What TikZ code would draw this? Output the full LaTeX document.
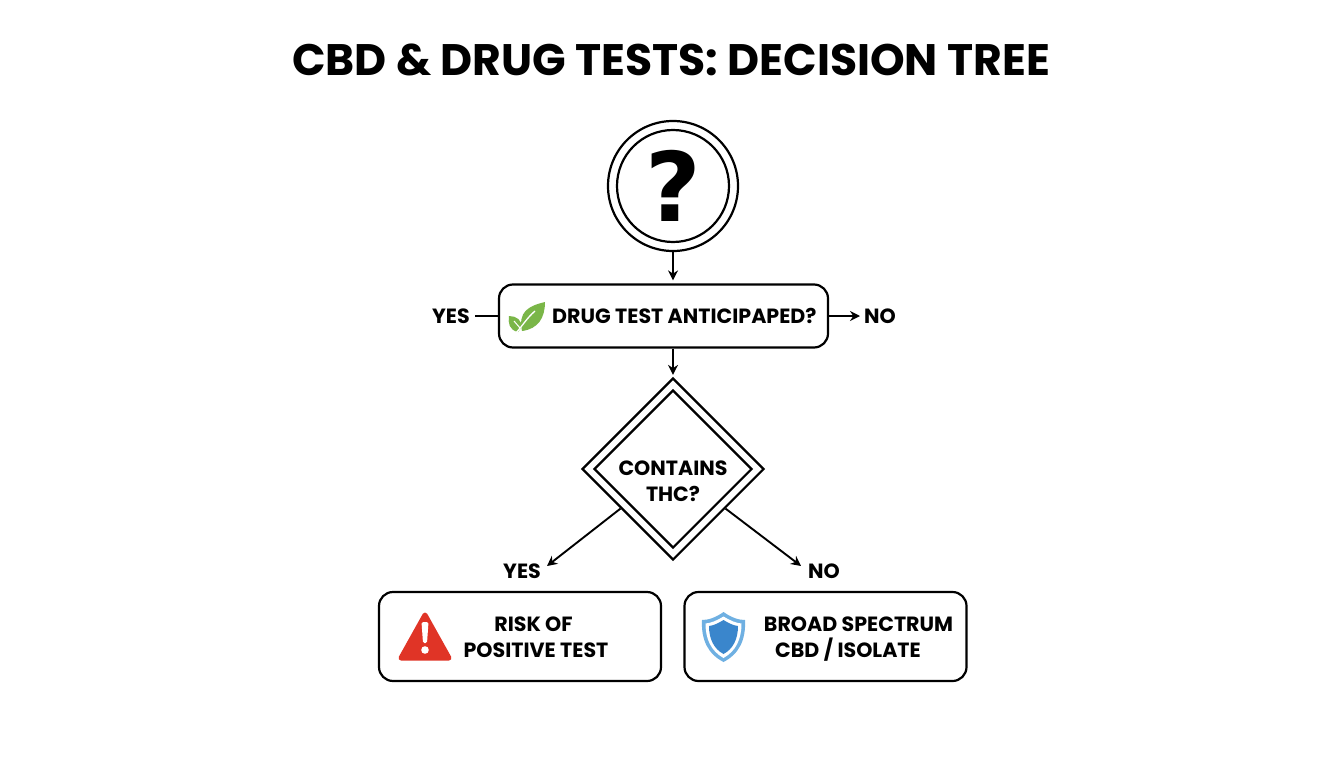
\documentclass[tikz,border=0pt]{standalone}
\usepackage{fontspec}
\setmainfont{Poppins}
\newfontfamily\markfont{DejaVu Sans}
\usetikzlibrary{arrows.meta,shapes.geometric}
\definecolor{leaf green}{HTML}{7AB648}
\definecolor{alert red}{HTML}{E03426}
\definecolor{shield blue}{HTML}{3A86CC}
\definecolor{shield light}{HTML}{6FB0E2}
\tikzset{flow edge/.style={draw=black,line width=1.9pt,-{Stealth[length=10pt,width=10pt]}}}
\tikzset{flow box/.style={draw=black,line width=2.2pt,rounded corners=14pt,fill=white,inner sep=0pt}}
\tikzset{flow text/.style={font=\bfseries\fontsize{20.6}{26}\selectfont,align=center,inner sep=0pt}}
\tikzset{ring/.style={draw=black,line width=2.2pt,circle,inner sep=0pt}}
\tikzset{rhomb/.style={draw=black,line width=2.2pt,diamond,inner sep=0pt,aspect=1}}

\begin{document}
\begin{tikzpicture}[x=1pt,y=-1pt]
\useasboundingbox (0,0) rectangle (1344,768);

\node[font=\bfseries\fontsize{44.1}{50}\selectfont,inner sep=0pt] (title) at (671,60) {CBD \& DRUG TESTS: DECISION TREE};

\node[ring,minimum size=130pt] (start) at (673,186) {};
\node[ring,minimum size=112pt,font=\markfont\bfseries\fontsize{96}{96}\selectfont] (mark) at (673,186) {?};

\node[flow box,minimum width=329pt,minimum height=63pt] (test) at (663.5,316) {};
\node[flow text,anchor=west] (testtext) at (552,316) {DRUG TEST ANTICIPAPED?};
\node[flow text,anchor=east] (testyes) at (470,316) {YES};
\node[flow text,anchor=west] (testno) at (864,316) {NO};

\node[rhomb,minimum width=182pt,minimum height=182pt] (thc) at (673,469) {};
\node[rhomb,minimum width=158pt,minimum height=158pt] (thcin) at (673,469) {};
\node[flow text] (thctext) at (673,481) {CONTAINS\\THC?};

\node[flow box,minimum width=282pt,minimum height=89pt] (risk) at (520,636.5) {};
\node[flow box,minimum width=282pt,minimum height=89pt] (safe) at (825.5,636.5) {};
\node[flow text] (risktext) at (536,637) {RISK OF\hspace*{5pt}\\POSITIVE TEST};
\node[flow text] (safetext) at (858.5,639) {BROAD SPECTRUM\\CBD / ISOLATE\hspace*{21pt}};
\node[flow text] (thcyes) at (522,571) {YES};
\node[flow text] (thcno) at (824,571) {NO};
\coordinate (yesend) at (547,566);
\coordinate (noend) at (801,566);

\draw[flow edge,shorten >=3pt] (start) -- (start |- test.north);
\draw[flow edge,shorten >=2pt] (start |- test.south) -- (thc.north);
\draw[line width=1.9pt] (testyes.east) ++(5,0) -- (test.west);
\draw[flow edge,shorten >=4pt] (test.east) -- (testno.west);
\draw[flow edge] (thc.217) -- (yesend);
\draw[flow edge] (thc.-37) -- (noend);

\fill[leaf green] (522,331) .. controls (518,312) and (528,306) .. (545,302) .. controls (545,318) and (538,329) .. (522,331) -- cycle;
\fill[leaf green] (518,332) .. controls (509,330) and (508,323) .. (509,316) .. controls (516,316) and (523,320) .. (521,328) -- cycle;
\draw[white,line width=1.3pt] (516,333) .. controls (523,325) and (527,318) .. (535,311);
\draw[white,line width=1pt] (520,328) -- (514,321);

\fill[alert red,draw=alert red,line width=5pt,line join=round] (425,615) -- (401,658) -- (449,658) -- cycle;
\fill[white,rounded corners=1.5pt] (421.5,622) -- (428.5,622) -- (427,643) -- (423,643) -- cycle;
\fill[white] (425,650) circle (3.8pt);

\fill[shield light] (723.5,612) .. controls (715,618) and (708,620) .. (702,620) .. controls (701,640) and (708,654) .. (723.5,662) .. controls (739,654) and (746,640) .. (745,620) .. controls (739,620) and (732,618) .. (723.5,612) -- cycle;
\fill[white] (723.5,616.5) .. controls (716,621) and (711,623) .. (705.5,623.5) .. controls (705.5,639) and (711,651) .. (723.5,658) .. controls (736,651) and (741.5,639) .. (741.5,623.5) .. controls (736,623) and (731,621) .. (723.5,616.5) -- cycle;
\fill[shield blue] (723.5,620) .. controls (717,624) and (713,625.5) .. (709,626) .. controls (709,639) and (714,649) .. (723.5,654) .. controls (733,649) and (738,639) .. (738,626) .. controls (734,625.5) and (730,624) .. (723.5,620) -- cycle;
\end{tikzpicture}
\end{document}
